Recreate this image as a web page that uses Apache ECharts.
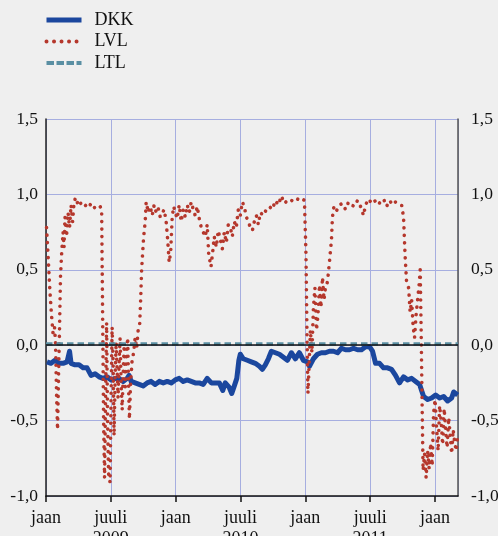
<!DOCTYPE html>
<html>
<head>
<meta charset="utf-8">
<script src="https://cdn.jsdelivr.net/npm/echarts@6/dist/echarts.min.js"></script>
<style>
  html, body { margin: 0; padding: 0; background: #efefef; }
  #chart { width: 498px; height: 536px; }
</style>
</head>
<body>
<div id="chart"></div>
<script>
// x values are months since 1 Jan 2009
const seriesNames = ['DKK', 'LVL', 'LTL'];
const xTickLabels = ['jaan', 'juuli\n2009', 'jaan', 'juuli\n2010', 'jaan', 'juuli\n2011', 'jaan'];
const yTicks = [-1.0, -0.5, 0.0, 0.5, 1.0, 1.5];

const dkkMonths = [0.09,0.46,0.83,1.21,1.58,1.95,2.18,2.32,2.69,3.06,3.43,3.80,4.17,4.54,4.91,5.28,5.65,6.03,6.40,6.77,7.14,7.51,7.69,7.88,8.25,8.62,8.99,9.36,9.73,10.10,10.48,10.85,11.22,11.59,11.96,12.33,12.70,13.07,13.44,13.81,14.18,14.55,14.92,15.30,15.67,16.04,16.36,16.59,16.96,17.19,17.43,17.66,17.85,17.98,18.26,18.63,19.00,19.37,19.75,20.02,20.30,20.58,20.86,21.23,21.60,21.97,22.34,22.71,23.08,23.45,23.82,24.20,24.38,24.75,25.12,25.49,25.86,26.23,26.61,26.98,27.35,27.72,28.09,28.46,28.83,29.20,29.57,29.94,30.22,30.50,30.87,31.24,31.61,31.98,32.35,32.72,33.09,33.47,33.84,34.21,34.58,34.76,34.95,35.32,35.69,36.06,36.43,36.80,37.17,37.54,37.73,38.10];
const dkkValues = [-0.11,-0.12,-0.10,-0.12,-0.12,-0.11,-0.04,-0.12,-0.13,-0.13,-0.15,-0.15,-0.20,-0.19,-0.21,-0.22,-0.21,-0.23,-0.22,-0.22,-0.24,-0.22,-0.20,-0.24,-0.25,-0.26,-0.27,-0.25,-0.24,-0.26,-0.24,-0.25,-0.24,-0.25,-0.23,-0.22,-0.24,-0.23,-0.24,-0.25,-0.25,-0.26,-0.22,-0.25,-0.25,-0.25,-0.30,-0.25,-0.28,-0.32,-0.27,-0.22,-0.10,-0.06,-0.09,-0.10,-0.11,-0.12,-0.14,-0.16,-0.13,-0.09,-0.04,-0.05,-0.06,-0.08,-0.10,-0.05,-0.09,-0.05,-0.10,-0.11,-0.14,-0.09,-0.06,-0.05,-0.05,-0.04,-0.04,-0.05,-0.02,-0.03,-0.03,-0.02,-0.03,-0.03,-0.01,-0.01,-0.04,-0.12,-0.12,-0.15,-0.15,-0.16,-0.20,-0.25,-0.21,-0.23,-0.22,-0.24,-0.26,-0.30,-0.34,-0.36,-0.35,-0.33,-0.35,-0.34,-0.37,-0.35,-0.31,-0.33];

const lvlMonths = [0.05,0.19,0.37,0.51,0.65,0.79,0.88,0.97,1.07,1.16,1.25,1.34,1.44,1.58,1.67,1.76,1.90,2.04,2.18,2.32,2.46,2.60,2.75,2.97,3.15,3.34,3.62,3.89,4.17,4.45,4.73,5.01,5.15,5.24,5.33,5.42,5.52,5.61,5.70,5.79,5.93,6.03,6.12,6.21,6.30,6.40,6.49,6.58,6.67,6.77,6.86,6.95,7.05,7.14,7.23,7.32,7.42,7.56,7.65,7.72,7.83,7.97,8.11,8.25,8.39,8.53,8.67,8.76,8.85,8.95,9.04,9.18,9.27,9.46,9.64,9.83,10.01,10.20,10.38,10.57,10.75,10.94,11.12,11.26,11.40,11.54,11.68,11.82,11.96,12.14,12.33,12.51,12.70,12.89,13.07,13.26,13.44,13.63,13.81,14.00,14.18,14.37,14.55,14.74,14.92,15.06,15.27,15.43,15.57,15.76,15.94,16.13,16.32,16.50,16.69,16.87,17.06,17.24,17.43,17.61,17.80,17.98,18.17,18.35,18.54,18.73,18.91,19.10,19.28,19.47,19.65,19.84,20.12,20.39,20.67,20.95,21.23,21.51,21.78,22.06,22.34,22.62,22.90,23.18,23.45,23.73,23.92,24.06,24.15,24.24,24.34,24.47,24.61,24.75,24.89,25.03,25.17,25.31,25.45,25.59,25.73,25.86,26.05,26.23,26.42,26.51,26.65,26.88,27.16,27.44,27.72,28.00,28.27,28.55,28.83,29.11,29.39,29.57,29.85,30.13,30.41,30.68,30.96,31.24,31.52,31.80,32.07,32.35,32.63,32.91,33.09,33.23,33.37,33.56,33.70,33.84,33.98,34.11,34.25,34.39,34.53,34.63,34.72,34.81,34.90,35.04,35.18,35.32,35.46,35.60,35.74,35.87,36.01,36.15,36.29,36.43,36.57,36.71,36.85,36.98,37.12,37.27,37.41,37.54,37.68,37.82,37.96,38.10];
const lvlValues = [0.78,0.60,0.35,0.20,0.08,0.12,0.02,-0.30,-0.56,-0.20,0.10,0.45,0.60,0.75,0.65,0.85,0.72,0.88,0.78,0.93,0.82,0.95,0.98,0.93,0.95,0.92,0.93,0.91,0.94,0.91,0.93,0.92,0.90,0.20,-0.50,-0.88,-0.30,0.15,-0.50,-0.85,-0.91,-0.30,0.12,-0.10,-0.60,-0.20,0.02,-0.15,-0.35,-0.10,0.05,-0.25,-0.43,-0.20,0.00,-0.30,-0.10,0.05,-0.30,-0.49,-0.25,-0.10,-0.05,0.05,-0.02,0.10,0.14,0.30,0.50,0.62,0.72,0.82,0.95,0.88,0.92,0.86,0.93,0.88,0.91,0.85,0.86,0.90,0.82,0.70,0.55,0.62,0.85,0.92,0.88,0.84,0.93,0.82,0.90,0.85,0.93,0.88,0.95,0.90,0.86,0.92,0.84,0.78,0.75,0.72,0.80,0.60,0.52,0.62,0.72,0.65,0.76,0.70,0.64,0.75,0.68,0.80,0.78,0.72,0.82,0.78,0.90,0.86,0.95,0.92,0.85,0.82,0.78,0.76,0.82,0.86,0.80,0.88,0.86,0.90,0.92,0.90,0.96,0.93,0.99,0.94,0.96,0.95,0.97,0.96,0.98,0.97,0.96,0.60,0.10,-0.32,-0.15,0.10,-0.05,0.25,0.38,0.10,0.20,0.40,0.25,0.45,0.30,0.38,0.42,0.55,0.70,0.85,0.92,0.89,0.93,0.94,0.90,0.95,0.93,0.92,0.96,0.92,0.86,0.93,0.97,0.94,0.96,0.93,0.95,0.97,0.92,0.96,0.93,0.95,0.94,0.93,0.85,0.60,0.42,0.38,0.22,0.30,0.12,0.05,0.20,0.30,0.40,0.50,0.10,-0.40,-0.83,-0.72,-0.88,-0.70,-0.82,-0.65,-0.80,-0.45,-0.36,-0.55,-0.70,-0.40,-0.50,-0.66,-0.42,-0.55,-0.68,-0.48,-0.60,-0.72,-0.56,-0.64,-0.70,-0.60];

const ltlMonths = [0, 38.13];
const ltlValues = [0.008, 0.008];

const zip = (xs, ys) => xs.map((x, i) => [x, ys[i]]);

const serif = "'Liberation Serif', 'Times New Roman', serif";
const gridColor = '#a6aee0';
const colors = { DKK: '#1b479e', LVL: '#b5372c', LTL: '#5a8fa3' };
const dotted = [0.01, 7.5];
const dashed = [6.5, 4];

const yLabel = v => v.toFixed(1).replace('.', ',');

const chart = echarts.init(document.getElementById('chart'), null, { renderer: 'canvas' });
chart.setOption({
  animation: false,
  backgroundColor: '#efefef',
  textStyle: { fontFamily: serif, color: '#111' },
  legend: {
    show: true,
    type: 'plain',
    orient: 'vertical',
    left: 44,
    top: 11,
    right: 'auto',
    bottom: 'auto',
    padding: 0,
    itemWidth: 35,
    itemHeight: 14,
    itemGap: 3.5,
    itemStyle: { opacity: 0 },
    textStyle: { fontFamily: serif, fontSize: 18, lineHeight: 18, color: '#111', padding: [0, 0, 0, 8] },
    data: [
      { name: seriesNames[0], lineStyle: { width: 5, color: colors.DKK, type: 'solid' } },
      { name: seriesNames[1], lineStyle: { width: 4, color: colors.LVL, type: dotted, cap: 'round' } },
      { name: seriesNames[2], lineStyle: { width: 4, color: colors.LTL, type: [7.5, 2.5] } }
    ]
  },
  grid: { left: 46, right: 40, top: 119, bottom: 40, containLabel: false, outerBoundsMode: 'none' },
  xAxis: {
    type: 'value',
    min: 0,
    max: 38.13,
    interval: 6,
    axisLine: { show: true, onZero: false, lineStyle: { color: '#111', width: 1.5 } },
    axisTick: { show: true, inside: false, length: 6, lineStyle: { color: '#111', width: 1.5 } },
    axisLabel: {
      showMaxLabel: false,
      margin: 12,
      fontFamily: serif,
      fontSize: 18,
      lineHeight: 21,
      color: '#111',
      formatter: v => {
        const i = Math.round(v / 6);
        return Math.abs(v - i * 6) < 1e-6 ? (xTickLabels[i] || '') : '';
      }
    },
    splitLine: { show: true, lineStyle: { color: gridColor, width: 1 } }
  },
  yAxis: [
    {
      type: 'value',
      position: 'left',
      min: yTicks[0],
      max: yTicks[yTicks.length - 1],
      interval: 0.5,
      axisLine: { show: true, onZero: false, lineStyle: { color: '#222', width: 1.5 } },
      axisTick: { show: false },
      axisLabel: { margin: 8, fontFamily: serif, fontSize: 17.5, color: '#111', formatter: yLabel },
      splitLine: { show: true, lineStyle: { color: gridColor, width: 1 } }
    },
    {
      type: 'value',
      position: 'right',
      min: yTicks[0],
      max: yTicks[yTicks.length - 1],
      interval: 0.5,
      axisLine: { show: true, onZero: false, lineStyle: { color: '#555', width: 1.5 } },
      axisTick: { show: false },
      axisLabel: { margin: 13, fontFamily: serif, fontSize: 17.5, color: '#111', formatter: yLabel },
      splitLine: { show: false }
    }
  ],
  series: [
    {
      name: seriesNames[0],
      type: 'line',
      data: zip(dkkMonths, dkkValues),
      showSymbol: false,
      symbol: 'none',
      color: colors.DKK,
      lineStyle: { color: colors.DKK, width: 5, join: 'round' },
      itemStyle: { color: colors.DKK },
      markLine: {
        silent: true,
        symbol: 'none',
        label: { show: false },
        lineStyle: { color: '#111', width: 1.5, type: 'solid' },
        data: [{ yAxis: 0 }]
      },
      z: 2
    },
    {
      name: seriesNames[1],
      type: 'line',
      data: zip(lvlMonths, lvlValues),
      showSymbol: false,
      symbol: 'none',
      color: colors.LVL,
      lineStyle: { color: colors.LVL, width: 3.6, type: dotted, cap: 'round', join: 'round' },
      itemStyle: { color: colors.LVL },
      z: 3
    },
    {
      name: seriesNames[2],
      type: 'line',
      data: zip(ltlMonths, ltlValues),
      showSymbol: false,
      symbol: 'none',
      color: colors.LTL,
      lineStyle: { color: colors.LTL, width: 3.5, type: dashed },
      itemStyle: { color: colors.LTL },
      z: 4
    }
  ]
});
</script>
</body>
</html>
